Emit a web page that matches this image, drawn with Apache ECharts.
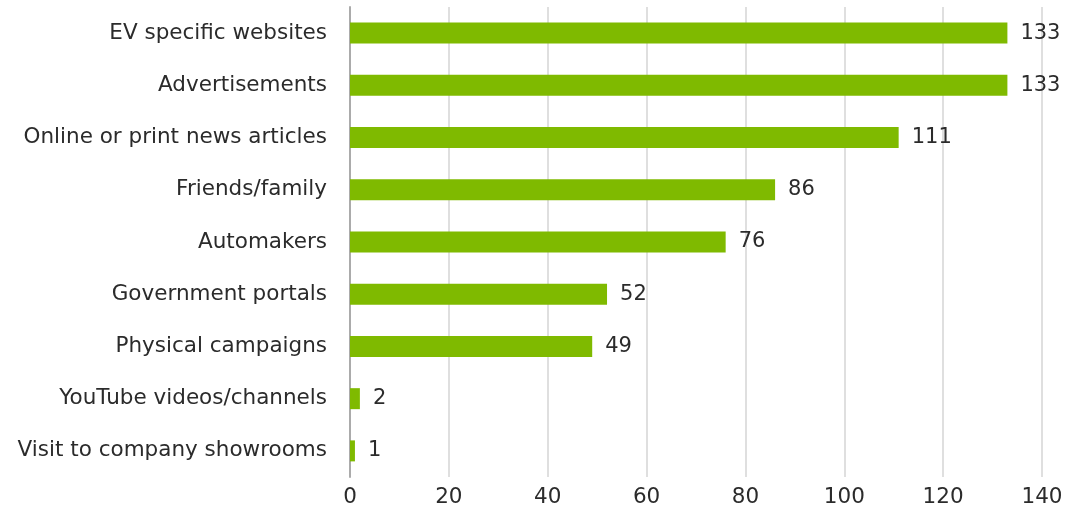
<!DOCTYPE html>
<html>
<head>
<meta charset="utf-8">
<script src="https://cdn.jsdelivr.net/npm/echarts@6/dist/echarts.min.js"></script>
<style>
  html, body { margin: 0; padding: 0; background: #fff; }
  #chart { width: 1066px; height: 518px; }
</style>
</head>
<body>
<div id="chart"></div>
<script>
// Sources of EV information (top to bottom)
const categories = [
  'EV specific websites',
  'Advertisements',
  'Online or print news articles',
  'Friends/family',
  'Automakers',
  'Government portals',
  'Physical campaigns',
  'YouTube videos/channels',
  'Visit to company showrooms'
];
const counts = [133, 133, 111, 86, 76, 52, 49, 2, 1];

const FONT = '"DejaVu Sans", sans-serif';
const TEXT = '#2b2b2b';

const chart = echarts.init(document.getElementById('chart'), null, { renderer: 'canvas' });
chart.setOption({
  animation: false,
  grid: { left: 350, right: 24, top: 7, bottom: 41, containLabel: false },
  xAxis: {
    type: 'value',
    min: 0, max: 140, interval: 20,
    axisLine: { show: false },
    axisTick: { show: false },
    axisLabel: { color: TEXT, fontSize: 21.5, fontFamily: FONT, margin: 9 },
    splitLine: { show: true, lineStyle: { color: '#d4d4d4', width: 1.5 } }
  },
  yAxis: {
    type: 'category',
    data: categories,
    inverse: true,
    axisLine: { show: true, lineStyle: { color: '#ababab', width: 2 } },
    axisTick: { show: false },
    axisLabel: { color: TEXT, fontSize: 21.5, fontFamily: FONT, margin: 23 }
  },
  series: [{
    type: 'bar',
    data: counts,
    barWidth: 21,
    itemStyle: { color: '#7fba00' },
    label: {
      show: true,
      position: 'right',
      distance: 13,
      color: TEXT,
      fontSize: 21,
      fontFamily: FONT
    }
  }]
});
</script>
</body>
</html>
